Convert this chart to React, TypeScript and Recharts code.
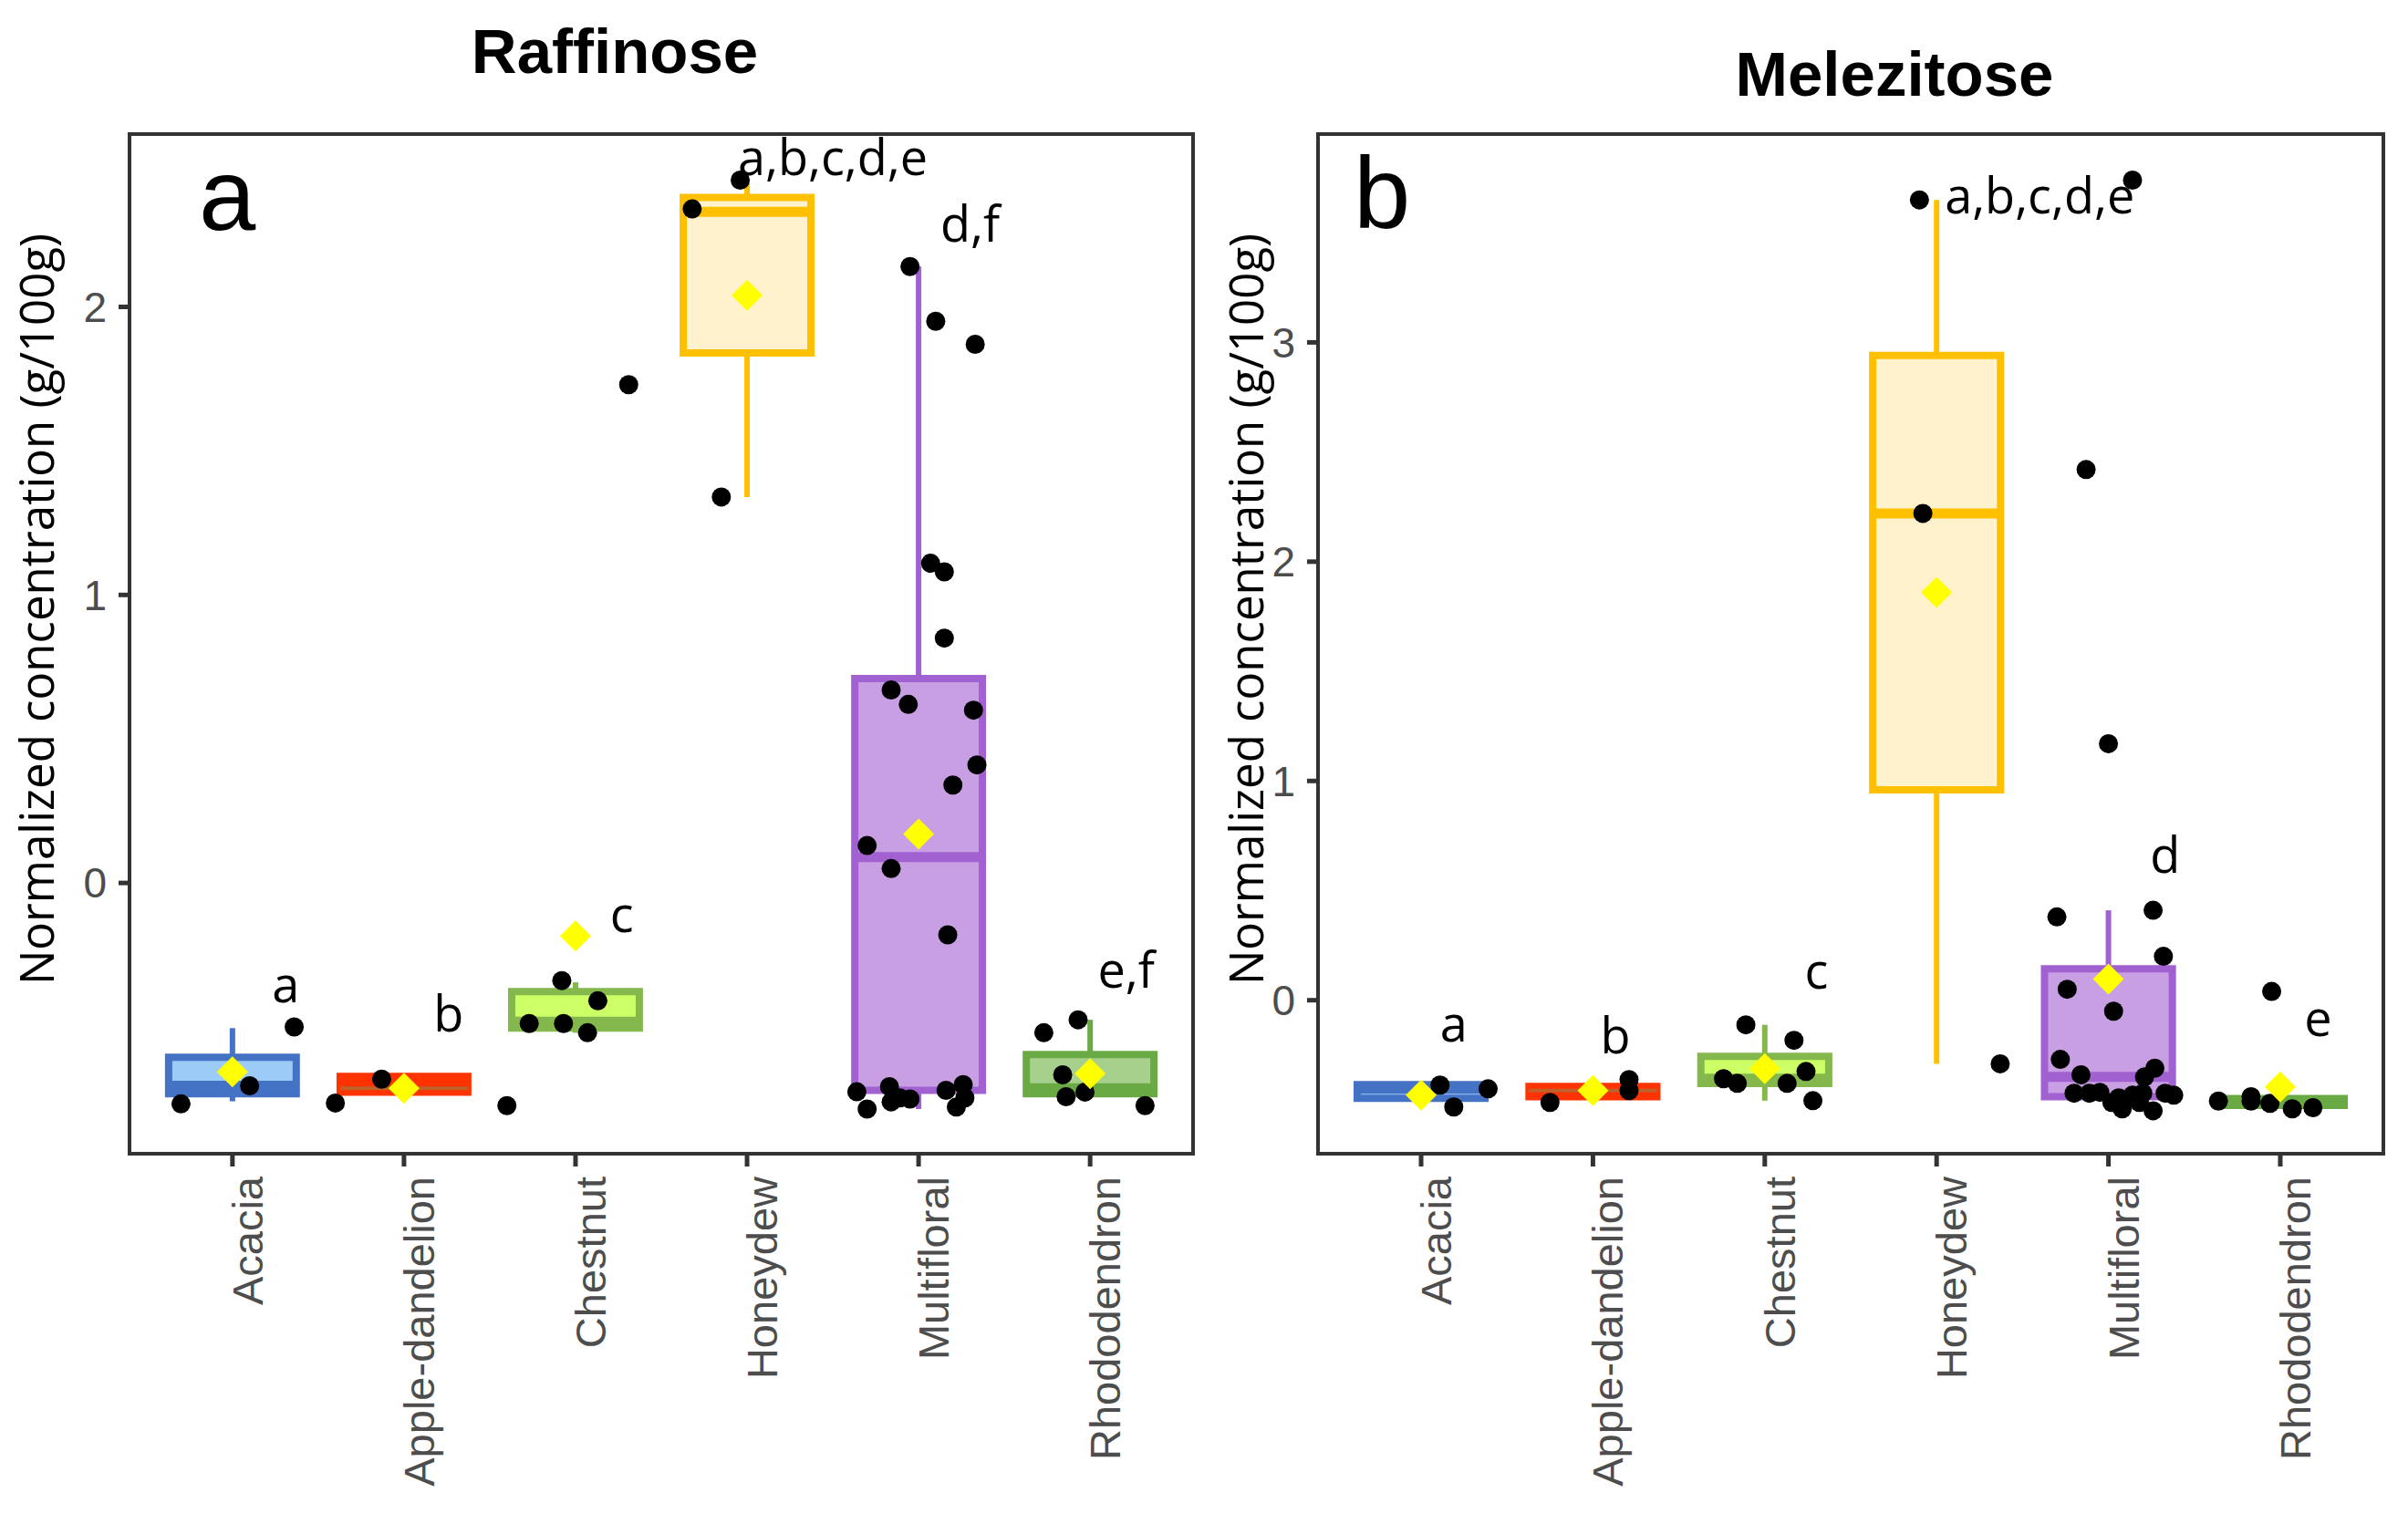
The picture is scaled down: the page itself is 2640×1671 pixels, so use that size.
import React from 'react';
import { ComposedChart, XAxis, YAxis, Scatter, ReferenceArea, ReferenceLine } from 'recharts';

const categories = ['Acacia', 'Apple-dandelion', 'Chestnut', 'Honeydew', 'Multifloral', 'Rhododendron'];
const strokeColors = ['#4472C4', '#FF3300', '#84B84C', '#FFC000', '#A261D1', '#6AAA45'];
const fillColors = ['#9DCBF7', '#FF3300', '#CCFF66', '#FFF2CC', '#C79FE2', '#A8D08D'];
const medianColors = ['#4472C4', '#C0602A', '#84B84C', '#FFC000', '#A261D1', '#6AAA45'];

// box stats: [lower whisker, Q1, median, Q3, upper whisker]
const raffinoseBoxes = [
  [-0.758, -0.732, -0.704, -0.605, -0.504],
  [-0.726, -0.726, -0.713, -0.672, -0.672],
  [-0.52, -0.504, -0.482, -0.377, -0.345],
  [1.34, 1.84, 2.33, 2.38, 2.44],
  [-0.785, -0.72, 0.09, 0.71, 2.14],
  [-0.742, -0.732, -0.713, -0.596, -0.475],
];
const raffinoseMeans = [-0.656, -0.713, -0.184, 2.04, 0.17, -0.662];
const raffinosePoints = [
  [[0.7, -0.767], [1.1, -0.704], [1.36, -0.5]],
  [[1.6, -0.764], [1.87, -0.681]],
  [[2.6, -0.773], [2.92, -0.339], [3.13, -0.409], [2.73, -0.488], [2.93, -0.488], [3.07, -0.52], [3.31, 1.73]],
  [[3.68, 2.34], [3.96, 2.44], [3.85, 1.34]],
  [
    [4.95, 2.14], [5.1, 1.95], [5.33, 1.87], [5.07, 1.11], [5.15, 1.08], [5.15, 0.85], [4.84, 0.67],
    [4.94, 0.62], [5.32, 0.6], [5.34, 0.41], [5.2, 0.34], [4.7, 0.13], [4.84, 0.05], [5.17, -0.18],
    [4.64, -0.725], [4.7, -0.785], [4.83, -0.707], [4.84, -0.76], [4.89, -0.746], [4.95, -0.75],
    [5.16, -0.72], [5.26, -0.7], [5.27, -0.746], [5.22, -0.778],
  ],
  [[5.73, -0.52], [5.93, -0.475], [5.84, -0.666], [5.86, -0.742], [5.97, -0.726], [6.32, -0.773]],
];
const raffinoseLetters = ['a', 'b', 'c', 'a,b,c,d,e', 'd,f', 'e,f'];
const raffinoseLetterPos = [[1.31, -0.415], [2.26, -0.517], [3.27, -0.17], [4.5, 2.456], [5.3, 2.225], [6.21, -0.365]];
const raffinoseThrough = [true, false, false, false, false, false];

const melezitoseBoxes = [
  [-0.487, -0.447, -0.404, -0.385, -0.385],
  [-0.466, -0.44, -0.412, -0.393, -0.362],
  [-0.458, -0.38, -0.358, -0.256, -0.112],
  [-0.29, 0.96, 2.22, 2.94, 3.65],
  [-0.504, -0.44, -0.35, 0.143, 0.41],
  [-0.495, -0.48, -0.465, -0.448, -0.44],
];
const melezitoseMeans = [-0.433, -0.412, -0.312, 1.86, 0.096, -0.395];
const melezitosePoints = [
  [[1.11, -0.387], [1.39, -0.404], [1.19, -0.487]],
  [[1.75, -0.466], [2.21, -0.362], [2.21, -0.412]],
  [[2.89, -0.112], [3.17, -0.183], [3.24, -0.325], [2.76, -0.358], [2.84, -0.379], [3.13, -0.379], [3.28, -0.458]],
  [[3.9, 3.65], [3.92, 2.22], [4.37, -0.29]],
  [
    [5.14, 3.74], [4.87, 2.42], [5.0, 1.17], [4.7, 0.38], [5.26, 0.41], [5.32, 0.2], [4.76, 0.05],
    [5.03, -0.05], [4.72, -0.27], [4.84, -0.34], [5.21, -0.35], [5.27, -0.31],
    [4.8, -0.424], [4.89, -0.424], [4.95, -0.42], [5.06, -0.445], [5.08, -0.495], [5.14, -0.433],
    [5.2, -0.424], [5.26, -0.504], [5.33, -0.424], [5.38, -0.433], [5.02, -0.466], [5.18, -0.466],
  ],
  [[5.64, -0.46], [5.83, -0.44], [5.83, -0.46], [5.94, -0.47], [6.07, -0.495], [6.19, -0.49], [5.95, 0.04]],
];
const melezitoseLetters = ['a', 'b', 'c', 'a,b,c,d,e', 'd', 'e'];
const melezitoseLetterPos = [[1.19, -0.187], [2.13, -0.241], [3.3, 0.054], [4.6, 3.59], [5.33, 0.58], [6.22, -0.162]];
const melezitoseThrough = [false, false, true, false, false, false];

const HALF = 0.372;
const TICK_FONT = 'Liberation Sans, Arial, sans-serif';
const NOTE_FONT = 'Open Sans, sans-serif';

const XTick = (props: any) => {
  const { x, y, payload } = props;
  const tx = x + 33;
  return (
    <text x={tx} y={y} transform={`rotate(-90, ${tx}, ${y})`} textAnchor="end" fontFamily={TICK_FONT} fontSize={47} fill="#4D4D4D">
      {categories[payload.value - 1]}
    </text>
  );
};

const Dot = (p: any) => <circle cx={p.cx} cy={p.cy} r={10.5} fill="#000" />;
const Diamond = (p: any) => {
  const s = 17;
  return <polygon points={`${p.cx},${p.cy - s} ${p.cx + s},${p.cy} ${p.cx},${p.cy + s} ${p.cx - s},${p.cy}`} fill="#FFFF00" />;
};
const Letter = (p: any) => (
  <text x={p.cx} y={p.cy} textAnchor="middle" fontFamily={NOTE_FONT} fontSize={54} fill="#000">
    {p.payload.label}
  </text>
);

interface PanelProps {
  boxes: number[][];
  means: number[];
  points: number[][][];
  letters: string[];
  letterPos: number[][];
  through: boolean[];
  yDomain: [number, number];
  yTicks: number[];
  margin: { top: number; right: number; bottom: number; left: number };
}

const BoxPanel: React.FC<PanelProps> = ({ boxes, means, points, letters, letterPos, through, yDomain, yTicks, margin }) => {
  const dots = points.flatMap((g) => g.map(([x, y]) => ({ x, y })));
  const meanData = means.map((y, i) => ({ x: i + 1, y }));
  const letterData = letters.map((label, i) => ({ x: letterPos[i][0], y: letterPos[i][1], label }));

  return (
    <ComposedChart width={1320} height={1671} margin={margin}>
      <XAxis
        type="number"
        dataKey="x"
        domain={[0.4, 6.6]}
        ticks={[1, 2, 3, 4, 5, 6]}
        allowDataOverflow
        interval={0}
        height={300}
        axisLine={false}
        tickSize={14}
        tickMargin={11}
        tickLine={{ stroke: '#333', strokeWidth: 5 }}
        tick={XTick}
      />
      <YAxis
        type="number"
        dataKey="y"
        domain={yDomain}
        ticks={yTicks}
        allowDataOverflow
        width={100}
        axisLine={false}
        tickSize={12}
        tickMargin={13}
        tickLine={{ stroke: '#333', strokeWidth: 5 }}
        tick={{ fill: '#4D4D4D', fontSize: 46, fontFamily: TICK_FONT }}
      />
      <ReferenceArea
        x1={0.4}
        x2={6.6}
        y1={yDomain[0]}
        y2={yDomain[1]}
        fill="none"
        stroke="#333"
        strokeWidth={4}
        ifOverflow="visible"
      />
      {boxes.map((b, i) => (
        <ReferenceArea
          key={`box${i}`}
          x1={i + 1 - HALF}
          x2={i + 1 + HALF}
          y1={b[1]}
          y2={b[3]}
          fill={fillColors[i]}
          fillOpacity={1}
          stroke={strokeColors[i]}
          strokeWidth={8}
          ifOverflow="visible"
        />
      ))}
      {boxes.map((b, i) => (
        <ReferenceLine
          key={`med${i}`}
          segment={[{ x: i + 1 - HALF, y: b[2] }, { x: i + 1 + HALF, y: b[2] }]}
          stroke={medianColors[i]}
          strokeWidth={i === 1 ? 4 : 11}
          ifOverflow="visible"
        />
      ))}
      {boxes.map((b, i) =>
        through[i] ? (
          <ReferenceLine
            key={`wt${i}`}
            segment={[{ x: i + 1, y: b[0] }, { x: i + 1, y: b[4] }]}
            stroke={strokeColors[i]}
            strokeWidth={6}
            ifOverflow="visible"
          />
        ) : null
      )}
      {boxes.map((b, i) =>
        !through[i] && b[4] > b[3] ? (
          <ReferenceLine
            key={`wu${i}`}
            segment={[{ x: i + 1, y: b[3] }, { x: i + 1, y: b[4] }]}
            stroke={strokeColors[i]}
            strokeWidth={6}
            ifOverflow="visible"
          />
        ) : null
      )}
      {boxes.map((b, i) =>
        !through[i] && b[0] < b[1] ? (
          <ReferenceLine
            key={`wl${i}`}
            segment={[{ x: i + 1, y: b[0] }, { x: i + 1, y: b[1] }]}
            stroke={strokeColors[i]}
            strokeWidth={6}
            ifOverflow="visible"
          />
        ) : null
      )}
      <Scatter data={dots} shape={Dot} isAnimationActive={false} />
      <Scatter data={meanData} shape={Diamond} isAnimationActive={false} />
      <Scatter data={letterData} shape={Letter} isAnimationActive={false} />
    </ComposedChart>
  );
};

const yLabel = 'Normalized concentration (g/100g)';

export default function App() {
  return (
    <div style={{ position: 'absolute', left: 0, top: 0, width: 2640, height: 1671, background: '#fff' }}>
      <div style={{ position: 'absolute', left: 0, top: 0 }}>
        <BoxPanel
          boxes={raffinoseBoxes}
          means={raffinoseMeans}
          points={raffinosePoints}
          letters={raffinoseLetters}
          letterPos={raffinoseLetterPos}
          through={raffinoseThrough}
          yDomain={[-0.94, 2.6]}
          yTicks={[0, 1, 2]}
          margin={{ top: 147, right: 12, bottom: 106, left: 42 }}
        />
      </div>
      <div style={{ position: 'absolute', left: 1320, top: 0 }}>
        <BoxPanel
          boxes={melezitoseBoxes}
          means={melezitoseMeans}
          points={melezitosePoints}
          letters={melezitoseLetters}
          letterPos={melezitoseLetterPos}
          through={melezitoseThrough}
          yDomain={[-0.7, 3.95]}
          yTicks={[0, 1, 2, 3]}
          margin={{ top: 147, right: 27, bottom: 106, left: 25 }}
        />
      </div>
      <svg width={2640} height={1671} style={{ position: 'absolute', left: 0, top: 0, pointerEvents: 'none' }}>
        <text x={674} y={80} textAnchor="middle" fontFamily={TICK_FONT} fontWeight="bold" fontSize={69} fill="#000">
          Raffinose
        </text>
        <text x={2077} y={105} textAnchor="middle" fontFamily={TICK_FONT} fontWeight="bold" fontSize={69} fill="#000">
          Melezitose
        </text>
        <text x={218} y={252} fontFamily={TICK_FONT} fontSize={112} fill="#000">
          a
        </text>
        <text x={1484} y={250} fontFamily={TICK_FONT} fontSize={112} fill="#000">
          b
        </text>
        <text x={39} y={668} transform="rotate(-90, 39, 668)" textAnchor="middle" dominantBaseline="central" fontFamily={NOTE_FONT} fontSize={51} fill="#000">
          {yLabel}
        </text>
        <text x={1365} y={668} transform="rotate(-90, 1365, 668)" textAnchor="middle" dominantBaseline="central" fontFamily={NOTE_FONT} fontSize={51} fill="#000">
          {yLabel}
        </text>
      </svg>
    </div>
  );
}
